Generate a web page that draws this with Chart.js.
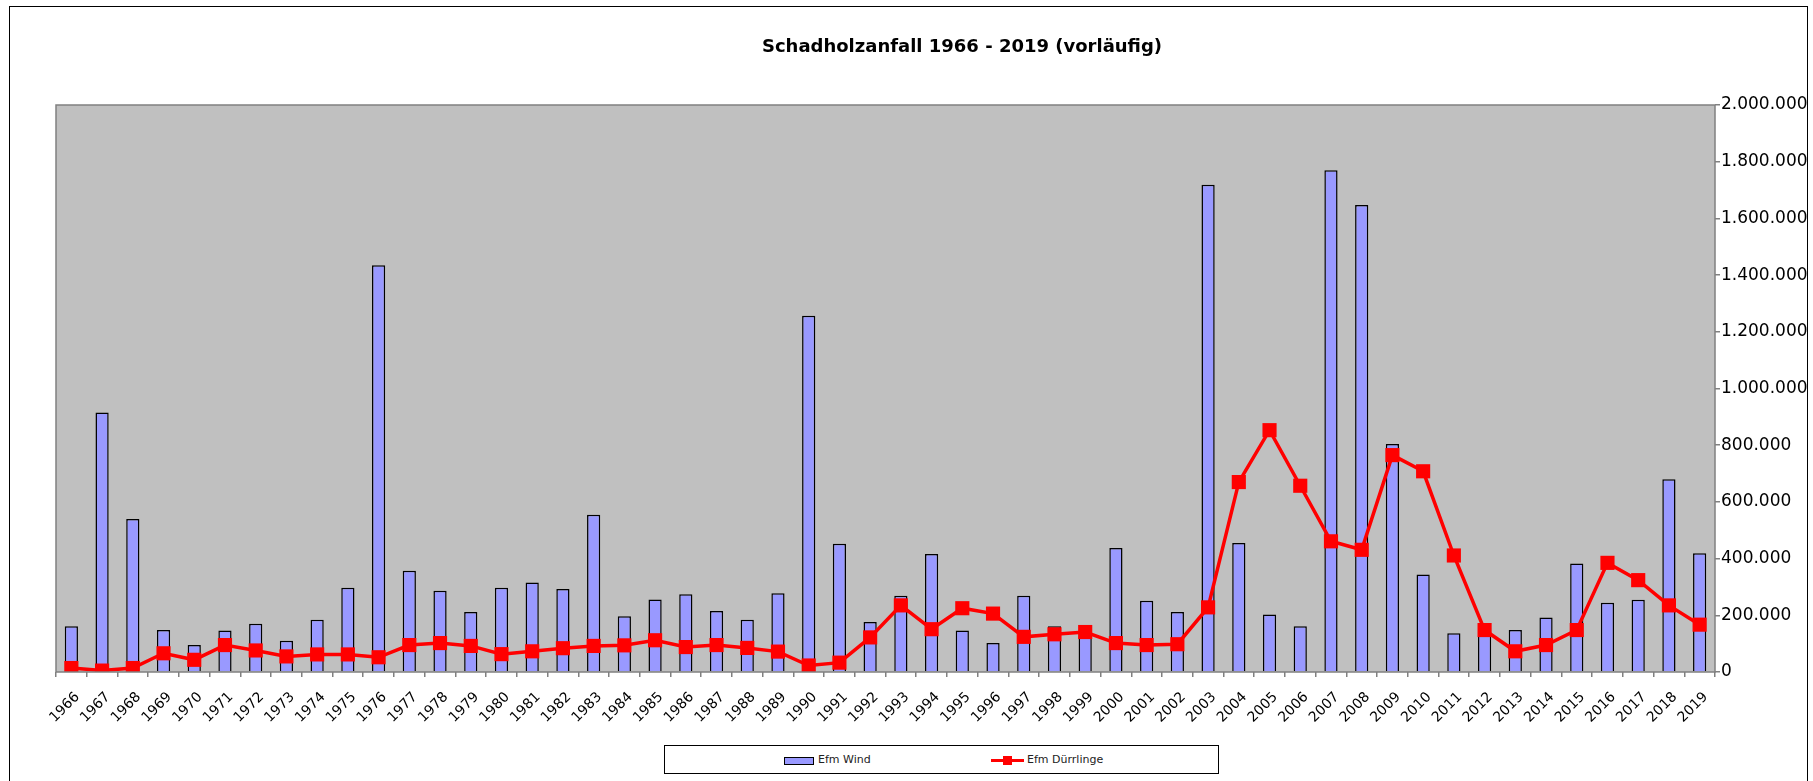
<!DOCTYPE html>
<html>
<head>
<meta charset="utf-8">
<script src="https://cdn.jsdelivr.net/npm/chart.js@4.4.1/dist/chart.umd.min.js"></script>
<style>
  body { margin: 0; background: #fff; }
  #wrap { position: relative; width: 1813px; height: 781px; overflow: hidden; }
  #title {
    position: absolute; left: 662px; top: 35px; width: 600px; text-align: center;
    font: bold 18px "DejaVu Sans", sans-serif; color: #000;
  }
  #legend {
    position: absolute; left: 664px; top: 745px; width: 555px; height: 29px;
    box-sizing: border-box; border: 1px solid #000; background: #fff;
    font: 11px "DejaVu Sans", sans-serif; color: #222;
  }
  .sw { position: absolute; left: 119px; top: 11px; width: 28px; height: 6px; background: #9999FF; border: 1.5px solid #000; }
  .ln { position: absolute; left: 326px; top: 13px; width: 33px; height: 3px; background: #f00; }
  .mk { position: absolute; left: 338px; top: 10px; width: 9px; height: 9px; background: #f00; }
  .lt { position: absolute; top: 7px; }
</style>
</head>
<body>
<div id="wrap">
  <canvas id="ComboChart" width="1813" height="781"></canvas>
  <div id="title">Schadholzanfall 1966 - 2019 (vorläufig)</div>
  <div id="legend">
    <span class="sw"></span><span class="lt" style="left:153px">Efm Wind</span>
    <span class="ln"></span><span class="mk"></span><span class="lt" style="left:362px">Efm Dürrlinge</span>
  </div>
</div>
<script>
// Jahre (x-Achse)
const years = [
  '1966', '1967', '1968', '1969', '1970', '1971', '1972', '1973', '1974', '1975',
  '1976', '1977', '1978', '1979', '1980', '1981', '1982', '1983', '1984', '1985',
  '1986', '1987', '1988', '1989', '1990', '1991', '1992', '1993', '1994', '1995',
  '1996', '1997', '1998', '1999', '2000', '2001', '2002', '2003', '2004', '2005',
  '2006', '2007', '2008', '2009', '2010', '2011', '2012', '2013', '2014', '2015',
  '2016', '2017', '2018', '2019'
];

// Efm Wind (Balken)
const windValues = [
  161000, 915000, 540000, 148000, 95000, 146000, 170000, 110000, 184000, 297000,
  1435000, 357000, 287000, 212000, 297000, 316000, 293000, 555000, 197000, 256000,
  274000, 215000, 184000, 278000, 1257000, 452000, 176000, 269000, 416000, 146000,
  102000, 269000, 161000, 135000, 437000, 251000, 212000, 1719000, 455000, 203000,
  161000, 1770000, 1647000, 804000, 344000, 137000, 155000, 148000, 192000, 383000,
  244000, 255000, 680000, 419000
];

// Efm Dürrlinge (Linie)
const duerrValues = [
  14000, 5000, 14000, 66000, 43000, 95000, 76000, 55000, 62000, 62000,
  52000, 95000, 102000, 92000, 63000, 73000, 84000, 92000, 94000, 112000,
  88000, 95000, 85000, 72000, 23000, 33000, 122000, 235000, 151000, 225000,
  206000, 124000, 133000, 141000, 102000, 95000, 98000, 228000, 670000, 853000,
  657000, 461000, 431000, 765000, 708000, 411000, 148000, 73000, 95000, 148000,
  385000, 324000, 235000, 167000
];

// y-Achse 0 .. 2.000.000
const yMax = 2000000;
const yStep = 200000;

const fmtDe = (v) => String(v).replace(/\B(?=(\d{3})+(?!\d))/g, '.');

// grauer Plotbereich + Rahmen
const plotBgPlugin = {
  id: 'plotBg',
  beforeDraw: (chart) => {
    const { ctx, chartArea: a } = chart;
    ctx.save();
    ctx.strokeStyle = '#000';
    ctx.lineWidth = 1;
    ctx.strokeRect(9.5, 6.5, 1798, 800);
    ctx.fillStyle = '#C0C0C0';
    ctx.fillRect(a.left, a.top, a.right - a.left, a.bottom - a.top);
    ctx.restore();
  },
  afterDatasetsDraw: (chart) => {
    const { ctx, chartArea: a } = chart;
    ctx.save();
    ctx.strokeStyle = '#808080';
    ctx.lineWidth = 1.5;
    ctx.strokeRect(a.left, a.top, a.right - a.left, a.bottom - a.top);
    ctx.restore();
  }
};

const combo_chart = () => {
  const ctx = document.getElementById('ComboChart');
  if (!ctx) return;

  new Chart(ctx, {
    data: {
      labels: years,
      datasets: [
        {
          type: 'line',
          label: 'Efm Dürrlinge',
          data: duerrValues,
          borderColor: '#FF0000',
          backgroundColor: '#FF0000',
          borderWidth: 3.5,
          pointStyle: 'rect',
          pointRadius: 10,
          pointBorderWidth: 0,
          tension: 0,
          order: 0
        },
        {
          type: 'bar',
          label: 'Efm Wind',
          data: windValues,
          backgroundColor: '#9999FF',
          borderColor: '#000',
          borderWidth: 1.5,
          barPercentage: 0.43,
          categoryPercentage: 1,
          order: 1
        }
      ]
    },
    options: {
      responsive: false,
      animation: false,
      layout: { padding: { top: 105, left: 56, right: 0, bottom: 0 } },
      plugins: {
        legend: { display: false },
        tooltip: { enabled: false }
      },
      scales: {
        x: {
          offset: true,
          grid: { offset: true, drawOnChartArea: false, tickLength: 5, color: '#808080', lineWidth: 1.5 },
          border: { display: false },
          ticks: {
            autoSkip: false,
            minRotation: 45,
            maxRotation: 45,
            padding: 12,
            labelOffset: 6,
            color: '#000',
            font: { family: 'DejaVu Sans', size: 14 }
          },
          afterFit: (s) => { s.height = 109; }
        },
        y: {
          position: 'right',
          min: 0,
          max: yMax,
          grid: { drawOnChartArea: false, tickLength: 5, color: '#808080', lineWidth: 1.5 },
          border: { display: false },
          ticks: {
            stepSize: yStep,
            padding: 1,
            color: '#000',
            font: { family: 'DejaVu Sans', size: 17 },
            callback: (v) => fmtDe(v)
          },
          afterFit: (s) => { s.width = 98; }
        }
      }
    },
    plugins: [plotBgPlugin]
  });
};

document.addEventListener('DOMContentLoaded', () => {
  combo_chart();
});
</script>
</body>
</html>
